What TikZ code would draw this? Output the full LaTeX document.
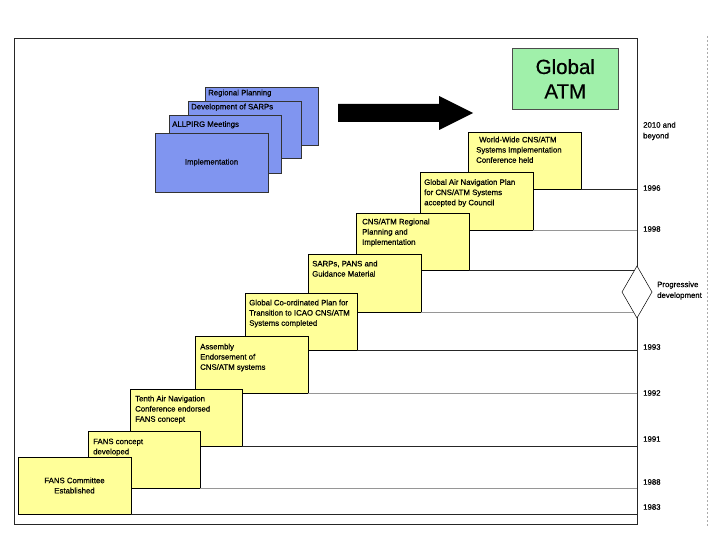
\documentclass[tikz,border=0pt]{standalone}
\usepackage{fontspec}
\setmainfont{Liberation Sans}[FakeBold=0.5]
\definecolor{ybox}{RGB}{255,255,153}
\definecolor{bbox}{RGB}{128,149,240}
\definecolor{gbox}{RGB}{160,240,170}
\definecolor{lgray}{RGB}{150,150,150}
\begin{document}
\begin{tikzpicture}[x=1pt,y=-1pt,
  yellowbox/.style={draw=black,line width=0.6pt,fill=ybox,inner sep=0pt,outer sep=0pt,anchor=north west},
  bluebox/.style={draw=black!80,line width=0.6pt,fill=bbox,inner sep=0pt,outer sep=0pt,anchor=north west},
  txt/.style={inner sep=0pt,anchor=north west,align=left,font=\fontsize{7.8}{10.2}\selectfont},
  yr/.style={inner sep=0pt,anchor=west,align=left,font=\fontsize{7.8}{10.8}\selectfont},
  darkline/.style={draw=black!85,line width=0.7pt},
  grayline/.style={draw=lgray,line width=0.7pt}]
\useasboundingbox (0,0) rectangle (720,540);
\fill[white] (0,0) rectangle (720,540);
% outer frame
\draw[line width=0.8pt,draw=black!85] (14,38) rectangle (637,524);
\coordinate (tl) at (637,38);
% dashed guide
\draw[lgray!80,line width=0.4pt,dash pattern=on 2pt off 2pt] (707,36) -- (707,526);
% global ATM
\node[draw=black!70,line width=0.6pt,fill=gbox,minimum width=106pt,minimum height=61pt,inner sep=0pt,anchor=north west,align=center,font=\fontsize{20.5}{24.5}\selectfont] (gatm) at (512,48) {Global\\ATM};
% big arrow
\fill[black] (338,104) -- (439,104) -- (439,96) -- (473,113) -- (439,130) -- (439,122) -- (338,122) -- cycle;
% blue stack
\node[bluebox,minimum width=113pt,minimum height=58pt] (p1) at (205,87) {};
\node[txt] at ([shift={(3,2.5)}]p1.north west) {Regional Planning};
\node[bluebox,minimum width=113pt,minimum height=57pt] (p2) at (188,101) {};
\node[txt] at ([shift={(3,2.5)}]p2.north west) {Development of SARPs};
\node[bluebox,minimum width=112pt,minimum height=58pt] (p3) at (169,115) {};
\node[txt] at ([shift={(3,6)}]p3.north west) {ALLPIRG Meetings};
\node[bluebox,minimum width=113pt,minimum height=59pt,font=\fontsize{7.8}{10.2}\selectfont] (p4) at (155,133) {Implementation};
% yellow steps (top ones first, so lower ones overlap)
\node[yellowbox,minimum width=113pt,minimum height=57pt] (b9) at (468,132) {};
\node[txt] at ([shift={(8,4.5)}]b9.north west) {\hspace{3pt}World-Wide CNS/ATM\\Systems Implementation\\Conference held};
\node[yellowbox,minimum width=113pt,minimum height=58pt] (b8) at (420,172) {};
\node[txt] at ([shift={(4,7)}]b8.north west) {Global Air Navigation Plan\\for CNS/ATM Systems\\accepted by Council};
\node[yellowbox,minimum width=113pt,minimum height=57pt] (b7) at (356,213) {};
\node[txt] at ([shift={(6,5.5)}]b7.north west) {CNS/ATM Regional\\Planning and\\Implementation};
\node[yellowbox,minimum width=113pt,minimum height=58pt] (b6) at (308,254) {};
\node[txt] at ([shift={(4,6.5)}]b6.north west) {SARPs, PANS and\\Guidance Material};
\node[yellowbox,minimum width=112pt,minimum height=57pt] (b5) at (245,293) {};
\node[txt] at ([shift={(4,6.5)}]b5.north west) {Global Co-ordinated Plan for\\Transition to ICAO CNS/ATM\\Systems completed};
\node[yellowbox,minimum width=113pt,minimum height=57pt] (b4) at (195,336) {};
\node[txt] at ([shift={(5,7.5)}]b4.north west) {Assembly\\Endorsement of\\CNS/ATM systems};
\node[yellowbox,minimum width=112pt,minimum height=57pt] (b3) at (130,389) {};
\node[txt] at ([shift={(5,6.5)}]b3.north west) {Tenth Air Navigation\\Conference endorsed\\FANS concept};
\node[yellowbox,minimum width=112pt,minimum height=57pt] (b2) at (88,431) {};
\node[txt] at ([shift={(5,7.5)}]b2.north west) {FANS concept\\developed};
\node[yellowbox,minimum width=113pt,minimum height=57pt,align=center,font=\fontsize{7.8}{10.2}\selectfont] (b1) at (18,457) {FANS Committee\\Established};
% step lines to the timeline
\draw[darkline] (b9.south east) -- (b9.south east -| tl);
\draw[grayline] (b8.south east) -- (b8.south east -| tl);
\draw[darkline] (b7.south east) -- (b7.south east -| tl);
\draw[grayline] (b6.south east) -- (b6.south east -| tl);
\draw[darkline] (b5.south east) -- (b5.south east -| tl);
\draw[grayline] (b4.south east) -- (b4.south east -| tl);
\draw[darkline] (b3.south east) -- (b3.south east -| tl);
\draw[grayline] (b2.south east) -- (b2.south east -| tl);
\draw[darkline] (b1.south east) -- (b1.south east -| tl);
% diamond
\draw[fill=white,line width=0.5pt] (637,266) -- (652,292) -- (637,318) -- (622,292) -- cycle;
% year labels
\node[yr] (y2010) at (643,131) {2010 and\\beyond};
\node[yr] (y1996) at (643,188) {1996};
\node[yr] (y1998) at (643,229) {1998};
\node[yr] (yprog) at (657,290.5) {Progressive\\development};
\node[yr] (y1993) at (643,347) {1993};
\node[yr] (y1992) at (643,393) {1992};
\node[yr] (y1991) at (643,439) {1991};
\node[yr] (y1988) at (643,482) {1988};
\node[yr] (y1983) at (643,507) {1983};
\end{tikzpicture}
\end{document}
